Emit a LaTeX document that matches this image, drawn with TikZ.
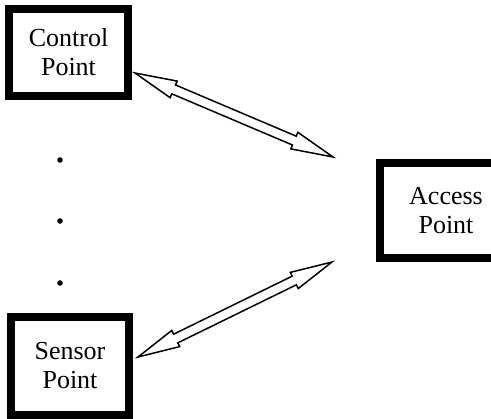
\documentclass[tikz,border=0pt]{standalone}
\usepackage{fontspec}
\setmainfont{Liberation Serif}
\usetikzlibrary{calc}

\tikzset{
  unitbox/.style={draw=black, line width=8pt, fill=white, align=center,
    font=\fontsize{26}{29}\selectfont, inner sep=0pt},
  hollow/.style={draw=black, line width=1.5pt, fill=white, line join=miter},
  dotmark/.style={fill=black, draw=none}
}

% hollow double-headed arrow between two named points
\newcommand\hollowarrow[2]{%
  \path[hollow] (#1)
    -- ($(#1)!42pt!(#2)!9pt!90:(#2)$)
    -- ($(#1)!42pt!(#2)!4.8pt!90:(#2)$)
    -- ($(#2)!42pt!(#1)!4.8pt!-90:(#1)$)
    -- ($(#2)!42pt!(#1)!9pt!-90:(#1)$)
    -- (#2)
    -- ($(#2)!42pt!(#1)!9pt!90:(#1)$)
    -- ($(#2)!42pt!(#1)!4.8pt!90:(#1)$)
    -- ($(#1)!42pt!(#2)!4.8pt!-90:(#2)$)
    -- ($(#1)!42pt!(#2)!9pt!-90:(#2)$)
    -- cycle;}

\begin{document}
\begin{tikzpicture}[x=1pt, y=-1pt]
  \useasboundingbox (0,0) rectangle (491,419);
  \clip (0,0) rectangle (491,419);
  \fill[white] (0,0) rectangle (491,419);

  % units
  \node[unitbox, minimum width=119pt, minimum height=87pt] (ctrl) at (68.5,52.5) {Control\\Point};
  \node[unitbox, minimum width=118pt, minimum height=98pt] (sens) at (70,366) {Sensor\\Point};
  \node[unitbox, minimum width=132pt, minimum height=95pt] (acc) at (446,210.5) {Access\\Point};

  % ellipsis between the two units
  \fill[dotmark] (60,160) circle (2.8pt);
  \fill[dotmark] (60,221) circle (2.8pt);
  \fill[dotmark] (60,283) circle (2.8pt);

  % arrow end points
  \coordinate (ctrlend) at (135,73);
  \coordinate (accup) at (333,157);
  \coordinate (sensend) at (138,357);
  \coordinate (acclow) at (332,262);

  \hollowarrow{ctrlend}{accup}
  \hollowarrow{sensend}{acclow}
\end{tikzpicture}
\end{document}
